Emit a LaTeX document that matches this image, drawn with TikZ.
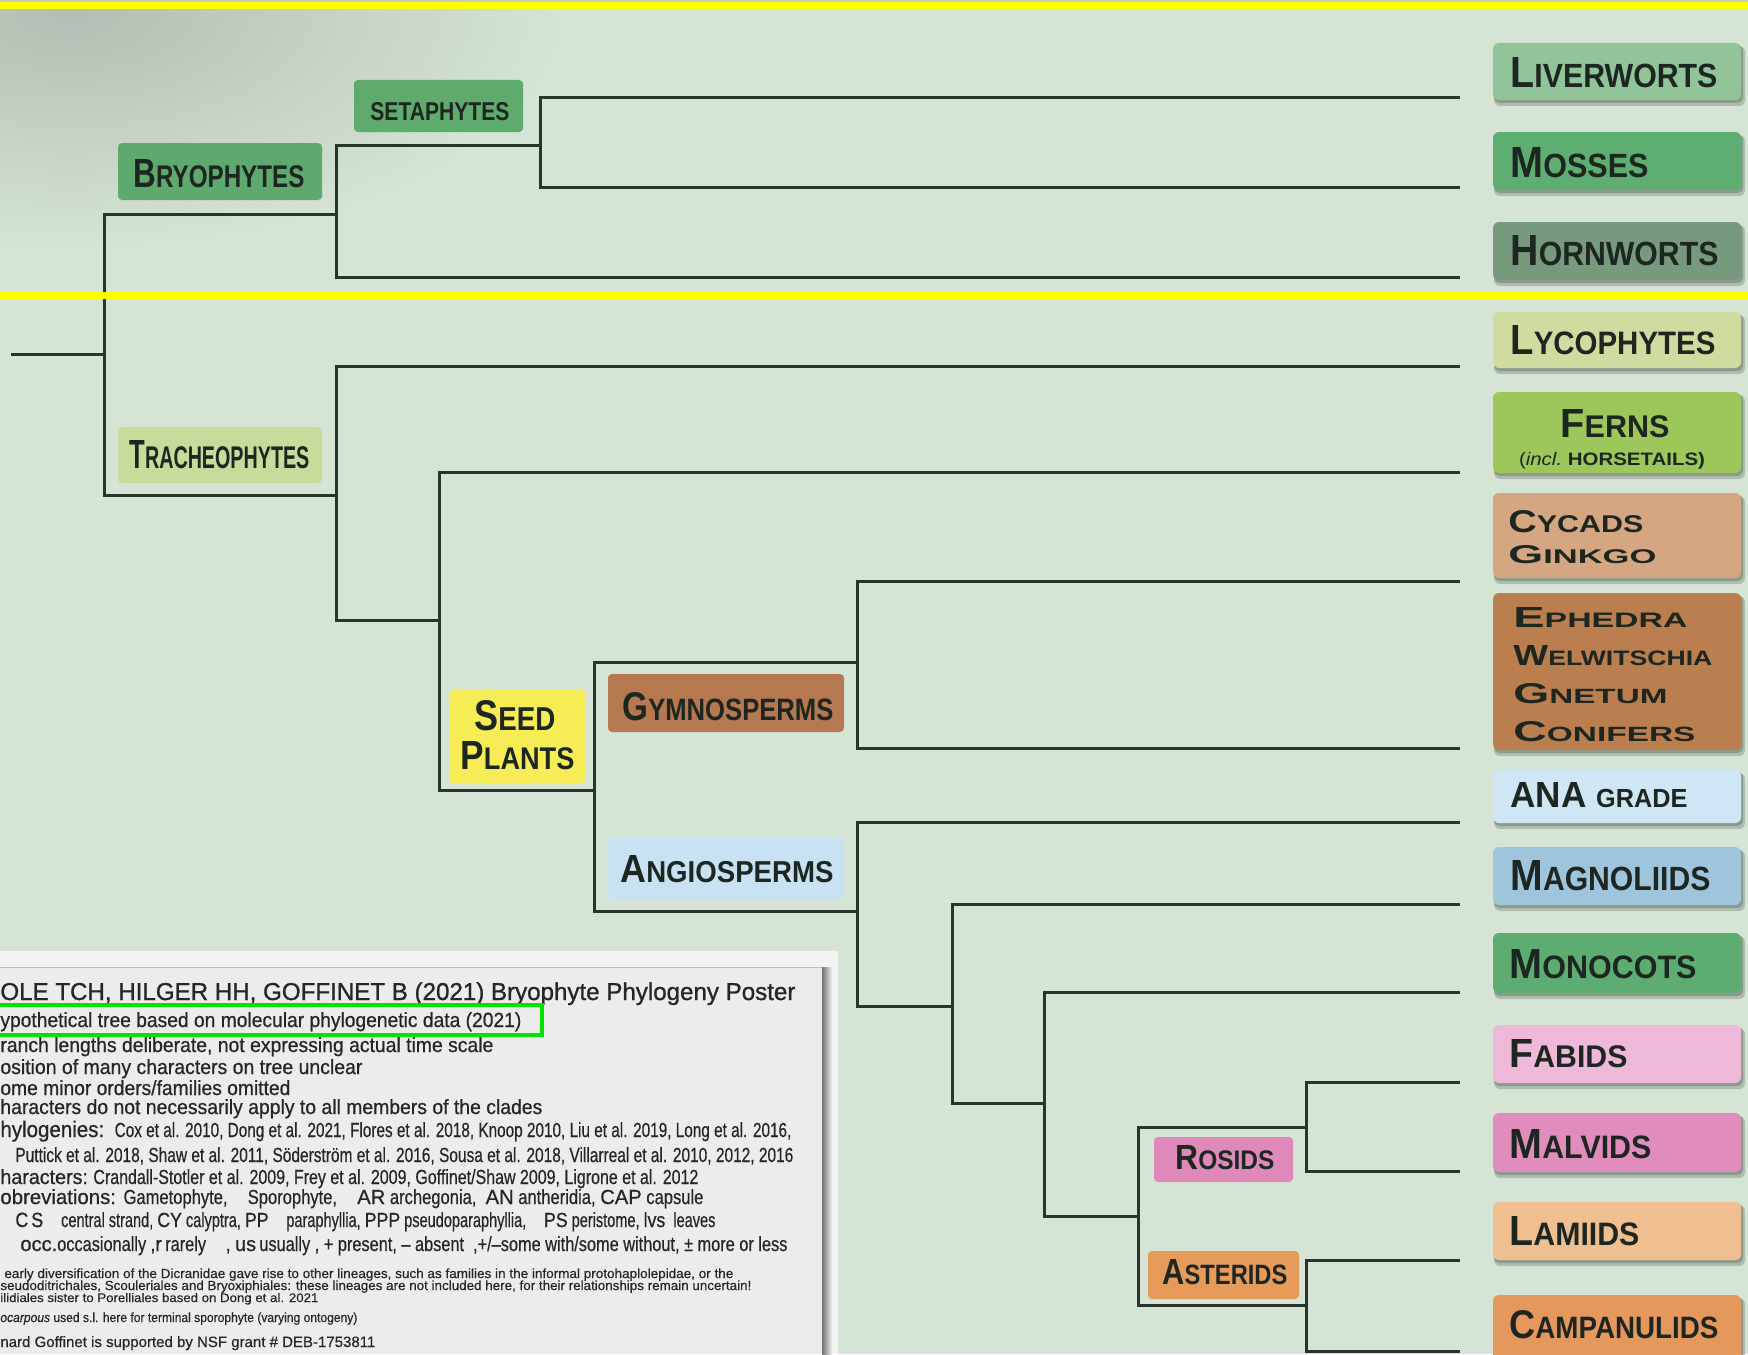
\documentclass[tikz,border=0pt]{standalone}
\usepackage{fontspec}
\setmainfont{Liberation Sans}
\newfontfamily\narrowf[FakeStretch=0.82,FakeBold=0.4]{Liberation Sans}
\newfontfamily\legf[FakeBold=0.7]{Liberation Sans}
\newfontfamily\titf[FakeBold=1.0]{Liberation Sans}
\usepackage{graphicx}
\newdimen\pxu \pxu=0.5pt
\definecolor{bg}{HTML}{D5E4D5}
\definecolor{tlgray}{HTML}{B4BEB4}
\definecolor{treeline}{HTML}{28352B}
\definecolor{labeltext}{HTML}{1D2620}
\definecolor{legtext}{HTML}{262626}
\definecolor{shadowc}{HTML}{3E4A40}
\definecolor{cLiv}{HTML}{92C49A}
\definecolor{cMos}{HTML}{5DAE70}
\definecolor{cHor}{HTML}{77997E}
\definecolor{cLyc}{HTML}{CEDD9F}
\definecolor{cFer}{HTML}{9EC75B}
\definecolor{cCyc}{HTML}{D4A681}
\definecolor{cEph}{HTML}{BB7F4F}
\definecolor{cAna}{HTML}{CFE6F5}
\definecolor{cMag}{HTML}{9FC5DD}
\definecolor{cMon}{HTML}{5DAD72}
\definecolor{cFab}{HTML}{EEB8D8}
\definecolor{cMal}{HTML}{E08DBE}
\definecolor{cLam}{HTML}{F0BF8F}
\definecolor{cCam}{HTML}{E5985C}
\definecolor{cSet}{HTML}{5FAB6E}
\definecolor{cBry}{HTML}{5EA96D}
\definecolor{cTra}{HTML}{C7DC9B}
\definecolor{cSee}{HTML}{F6EC56}
\definecolor{cGym}{HTML}{B5784F}
\definecolor{cAng}{HTML}{C8E2F4}
\definecolor{cRos}{HTML}{DE89B9}
\definecolor{cAst}{HTML}{E69B5B}
\definecolor{panel}{HTML}{ECECEC}
\definecolor{panelouter}{HTML}{F3F4F1}
\definecolor{hlgreen}{HTML}{00E400}
\definecolor{ylw}{HTML}{FFFF00}
\newcommand\fsc[3][15.4]{{\bfseries\fontsize{20}{20}\selectfont #2}{\bfseries\fontsize{#1}{#1}\selectfont #3}}
\tikzset{
  branch/.style={draw=treeline, line width=1.5pt},
  leafbox/.style={rectangle, rounded corners=3pt, inner sep=0pt, draw=none},
  cladebox/.style={rectangle, rounded corners=2pt, inner sep=0pt, draw=none},
  lbl/.style={inner sep=0pt, anchor=base west, text=labeltext},
  leg/.style={inner sep=0pt, anchor=base west, text=legtext, font=\legf\fontsize{10.3}{11}\selectfont},
  small/.style={inner sep=0pt, anchor=base west, text=legtext, font=\narrowf\fontsize{6.6}{7}\selectfont}
}
\newcommand\leaf[6]{%
  \fill[shadowc, opacity=0.25, rounded corners=3pt] ({#2+1},{#3+3}) rectangle ({#4+4},{#5+6});
  \fill[shadowc, opacity=0.30, rounded corners=3pt] ({#2+1},{#3+2}) rectangle ({#4+2},{#5+3});
  \node[leafbox, fill=#6, minimum width={(#4-#2)/2}, minimum height={(#5-#3)/2}] (#1) at ({(#2+#4)/2},{(#3+#5)/2}) {};
}
\newcommand\clade[6]{%
  \node[cladebox, fill=#6, minimum width={(#4-#2)/2}, minimum height={(#5-#3)/2}] (#1) at ({(#2+#4)/2},{(#3+#5)/2}) {};
}
\begin{document}
\begin{tikzpicture}[x=0.5pt,y=-0.5pt]
\useasboundingbox (0,0) rectangle (1748,1354);
\clip (0,0) rectangle (1748,1354);
\fill[bg] (0,0) rectangle (1748,1354);
\begin{scope}
  \clip (0,9) rectangle (900,292);
  \shade[inner color=tlgray, outer color=bg] (70,12) ellipse [x radius=500, y radius=240];
\end{scope}
\fill[black!22] (0,0) rectangle (1748,2);

% ---------- tree coordinates ----------
\coordinate (root0) at (11,354);
\coordinate (R) at (104,354);
\coordinate (B) at (336,214);
\coordinate (S) at (540,145);
\coordinate (T) at (336,495);
\coordinate (E) at (439,620);
\coordinate (SP) at (594,790);
\coordinate (G) at (857,662);
\coordinate (A) at (857,911);
\coordinate (M) at (952,1006);
\coordinate (N) at (1044,1103);
\coordinate (Eu) at (1138,1216);
\coordinate (Ro) at (1306,1127);
\coordinate (As) at (1306,1305);
\coordinate (tLiv) at (1460,98);
\coordinate (tMos) at (1460,187);
\coordinate (tHor) at (1460,277);
\coordinate (tLyc) at (1460,366);
\coordinate (tFer) at (1460,472);
\coordinate (tCyc) at (1460,581);
\coordinate (tEph) at (1460,748);
\coordinate (tAna) at (1460,822);
\coordinate (tMag) at (1460,904);
\coordinate (tMon) at (1460,992);
\coordinate (tFab) at (1460,1082);
\coordinate (tMal) at (1460,1171);
\coordinate (tLam) at (1460,1260);
\coordinate (tCam) at (1460,1351);

% ---------- clade label boxes ----------
\clade{seta}{354}{80}{523}{132}{cSet}
\clade{bryo}{118}{143}{322}{200}{cBry}
\clade{trach}{118}{427}{322}{483}{cTra}
\clade{seed}{450}{689}{585}{784}{cSee}
\clade{gymno}{608}{674}{844}{732}{cGym}
\clade{angio}{608}{838}{844}{899}{cAng}
\clade{rosids}{1154}{1137}{1293}{1182}{cRos}
\clade{asterids}{1148}{1251}{1299}{1299}{cAst}

\node[lbl] (setT) at (370,120) {\resizebox{139\pxu}{18\pxu}{\bfseries\fontsize{20}{20}\selectfont SETAPHYTES}};
\node[lbl] (bryT) at (133,187) {\resizebox{171\pxu}{28\pxu}{\fsc{B}{RYOPHYTES}}};
\node[lbl] (traT) at (129,468) {\resizebox{180\pxu}{28\pxu}{\fsc{T}{RACHEOPHYTES}}};
\node[lbl] (seeT) at (474,730) {\resizebox{81\pxu}{30\pxu}{\fsc{S}{EED}}};
\node[lbl] (plaT) at (460,769) {\resizebox{114\pxu}{28\pxu}{\fsc{P}{LANTS}}};
\node[lbl] (gymT) at (622,720) {\resizebox{211\pxu}{28\pxu}{\fsc{G}{YMNOSPERMS}}};
\node[lbl] (angT) at (620,882) {\resizebox{213\pxu}{27\pxu}{\fsc{A}{NGIOSPERMS}}};
\node[lbl] (rosT) at (1175,1169) {\resizebox{99\pxu}{24\pxu}{\fsc{R}{OSIDS}}};
\node[lbl] (astT) at (1162,1284) {\resizebox{125\pxu}{25\pxu}{\fsc{A}{STERIDS}}};

% ---------- branches ----------
\draw[branch] (root0) -- (R);
\draw[branch] (R) |- (B);
\draw[branch] (R) |- (T);
\draw[branch] (B) |- (S);
\draw[branch] (B) |- (tHor);
\draw[branch] (S) |- (tLiv);
\draw[branch] (S) |- (tMos);
\draw[branch] (T) |- (tLyc);
\draw[branch] (T) |- (E);
\draw[branch] (E) |- (tFer);
\draw[branch] (E) |- (SP);
\draw[branch] (SP) |- (G);
\draw[branch] (SP) |- (A);
\draw[branch] (G) |- (tCyc);
\draw[branch] (G) |- (tEph);
\draw[branch] (A) |- (tAna);
\draw[branch] (A) |- (M);
\draw[branch] (M) |- (tMag);
\draw[branch] (M) |- (N);
\draw[branch] (N) |- (tMon);
\draw[branch] (N) |- (Eu);
\draw[branch] (Eu) |- (Ro);
\draw[branch] (Eu) |- (As);
\draw[branch] (Ro) |- (tFab);
\draw[branch] (Ro) |- (tMal);
\draw[branch] (As) |- (tLam);
\draw[branch] (As) |- (tCam);

% ---------- terminal boxes ----------
\leaf{liv}{1493}{43}{1741}{100}{cLiv}
\leaf{mos}{1493}{132}{1741}{190}{cMos}
\leaf{hor}{1493}{222}{1741}{280}{cHor}
\leaf{lyc}{1493}{312}{1741}{368}{cLyc}
\leaf{fer}{1493}{392}{1741}{473}{cFer}
\leaf{cyc}{1493}{493}{1741}{578}{cCyc}
\leaf{eph}{1493}{593}{1741}{750}{cEph}
\leaf{ana}{1493}{770}{1741}{823}{cAna}
\leaf{mag}{1493}{847}{1741}{905}{cMag}
\leaf{mon}{1493}{933}{1741}{993}{cMon}
\leaf{fab}{1493}{1025}{1741}{1083}{cFab}
\leaf{mal}{1493}{1113}{1741}{1172}{cMal}
\leaf{lam}{1493}{1202}{1741}{1260}{cLam}
\leaf{cam}{1493}{1295}{1741}{1364}{cCam}

\node[lbl] (livT) at (1510,88) {\resizebox{207\pxu}{30\pxu}{\fsc{L}{IVERWORTS}}};
\node[lbl] (mosT) at (1510,177) {\resizebox{138\pxu}{30\pxu}{\fsc{M}{OSSES}}};
\node[lbl] (horT) at (1510,265) {\resizebox{208\pxu}{30\pxu}{\fsc{H}{ORNWORTS}}};
\node[lbl] (lycT) at (1510,354) {\resizebox{205\pxu}{29\pxu}{\fsc{L}{YCOPHYTES}}};
\node[lbl, anchor=base] (ferT) at (1615,437) {\resizebox{109\pxu}{28\pxu}{\fsc{F}{ERNS}}};
\node[lbl, anchor=base] (ferS) at (1612,465) {\resizebox{186\pxu}{\height}{\fontsize{9}{9}\selectfont(\textit{incl.}\ \textbf{HORSETAILS)}}};
\node[lbl] (cycT) at (1508,532) {\resizebox{135\pxu}{22\pxu}{\fsc{C}{YCADS}}};
\node[lbl] (ginT) at (1508,563) {\resizebox{148\pxu}{18\pxu}{\fsc{G}{INKGO}}};
\node[lbl] (ephT) at (1513,627) {\resizebox{174\pxu}{20\pxu}{\fsc[14.4]{E}{PHEDRA}}};
\node[lbl] (welT) at (1513,665) {\resizebox{199\pxu}{20\pxu}{\fsc[14.4]{W}{ELWITSCHIA}}};
\node[lbl] (gneT) at (1513,703) {\resizebox{154\pxu}{20\pxu}{\fsc[14.4]{G}{NETUM}}};
\node[lbl] (conT) at (1513,741) {\resizebox{182\pxu}{20\pxu}{\fsc[14.4]{C}{ONIFERS}}};
\node[lbl] (anaT) at (1510,807) {\resizebox{177\pxu}{25\pxu}{\fsc[14.4]{ANA\ }{GRADE}}};
\node[lbl] (magT) at (1510,890) {\resizebox{200\pxu}{30\pxu}{\fsc{M}{AGNOLIIDS}}};
\node[lbl] (monT) at (1509,978) {\resizebox{187\pxu}{29\pxu}{\fsc{M}{ONOCOTS}}};
\node[lbl] (fabT) at (1509,1067) {\resizebox{118\pxu}{28\pxu}{\fsc{F}{ABIDS}}};
\node[lbl] (malT) at (1509,1158) {\resizebox{142\pxu}{29\pxu}{\fsc{M}{ALVIDS}}};
\node[lbl] (lamT) at (1509,1245) {\resizebox{130\pxu}{29\pxu}{\fsc{L}{AMIIDS}}};
\node[lbl] (camT) at (1509,1338) {\resizebox{209\pxu}{28\pxu}{\fsc{C}{AMPANULIDS}}};

% ---------- legend panel ----------
\fill[panelouter] (0,951) rectangle (838,1354);
\fill[panel] (0,967) rectangle (822,1354);
\draw[black!25, line width=0.5pt] (0,967) -- (822,967);
\shade[left color=black!55, right color=panelouter] (822,967) rectangle (832,1354);

\node[leg] (l1) at (0,1000) {\resizebox{795\pxu}{\height}{\titf\fontsize{12.2}{12}\selectfont OLE TCH, HILGER HH, GOFFINET B (2021) Bryophyte Phylogeny Poster}};
\node[leg] (l2) at (0,1027) {\resizebox{521\pxu}{\height}{ypothetical tree based on molecular phylogenetic data (2021)}};
\node[leg] (l3) at (0,1052) {\resizebox{493\pxu}{\height}{ranch lengths deliberate, not expressing actual time scale}};
\node[leg] (l4) at (0,1074) {\resizebox{362\pxu}{\height}{osition of many characters on tree unclear}};
\node[leg] (l5) at (0,1095) {\resizebox{290\pxu}{\height}{ome minor orders/families omitted}};
\node[leg] (l6) at (0,1114) {\resizebox{542\pxu}{\height}{haracters do not necessarily apply to all members of the clades}};
\node[leg] (l7) at (0,1137) {\resizebox{791\pxu}{\height}{{\fontsize{11.2}{12}\selectfont hylogenies:}\ \ {\narrowf\fontsize{10.2}{11}\selectfont Cox et al. 2010, Dong et al. 2021, Flores et al. 2018, Knoop 2010, Liu et al. 2019, Long et al. 2016,}}};
\node[leg] (l8) at (15,1162) {\resizebox{778\pxu}{\height}{\narrowf\fontsize{10.2}{11}\selectfont Puttick et al. 2018, Shaw et al. 2011, Söderström et al. 2016, Sousa et al. 2018, Villarreal et al. 2010, 2012, 2016}};
\node[leg] (l9) at (0,1184) {\resizebox{698\pxu}{\height}{haracters:\ {\narrowf\fontsize{10.2}{11}\selectfont Crandall-Stotler et al. 2009, Frey et al. 2009, Goffinet/Shaw 2009, Ligrone et al. 2012}}};
\node[leg] (l10) at (0,1204) {\resizebox{703\pxu}{\height}{obreviations: {\narrowf\fontsize{10.2}{11}\selectfont Gametophyte,\quad Sporophyte,\quad {\legf AR} archegonia,\ \ {\legf AN} antheridia,\ {\legf CAP} capsule}}};
\node[leg] (l11) at (15,1227) {\resizebox{700\pxu}{\height}{C\,S\quad{\narrowf\fontsize{10.2}{11}\selectfont central strand, {\legf CY} calyptra, {\legf PP}\quad paraphyllia, {\legf PPP} pseudoparaphyllia,\quad {\legf PS} peristome, {\legf lvs}\ \ leaves}}};
\node[leg] (l12) at (20,1251) {\resizebox{767\pxu}{\height}{occ.{\narrowf\fontsize{10.2}{11}\selectfont occasionally ,{\legf r}\,rarely\quad , {\legf us}\,usually , + present, – absent\ \ ,+/–some with/some without, ± more or less}}};
\node[small] (l13) at (4,1278) {\resizebox{729\pxu}{\height}{early diversification of the Dicranidae gave rise to other lineages, such as families in the informal protohaplolepidae, or the}};
\node[small] (l14) at (0,1290) {\resizebox{751\pxu}{\height}{seudoditrichales, Scouleriales and Bryoxiphiales: these lineages are not included here, for their relationships remain uncertain!}};
\node[small] (l15) at (0,1302) {\resizebox{318\pxu}{\height}{\fontsize{6.2}{7}\selectfont ilidiales sister to Porelliales based on Dong et al. 2021}};
\node[small] (l16) at (0,1322) {\resizebox{357\pxu}{\height}{\textit{ocarpous} used s.l. here for terminal sporophyte (varying ontogeny)}};
\node[small] (l17) at (0,1347) {\resizebox{375\pxu}{\height}{\fontsize{7.5}{8}\selectfont nard Goffinet is supported by NSF grant \# DEB-1753811}};

% ---------- overlays ----------
\draw[hlgreen, line width=2pt] (-5,1005) rectangle (542,1035);
\fill[ylw] (0,2) rectangle (1748,9);
\fill[ylw] (0,292) rectangle (1748,299);
\end{tikzpicture}
\end{document}
